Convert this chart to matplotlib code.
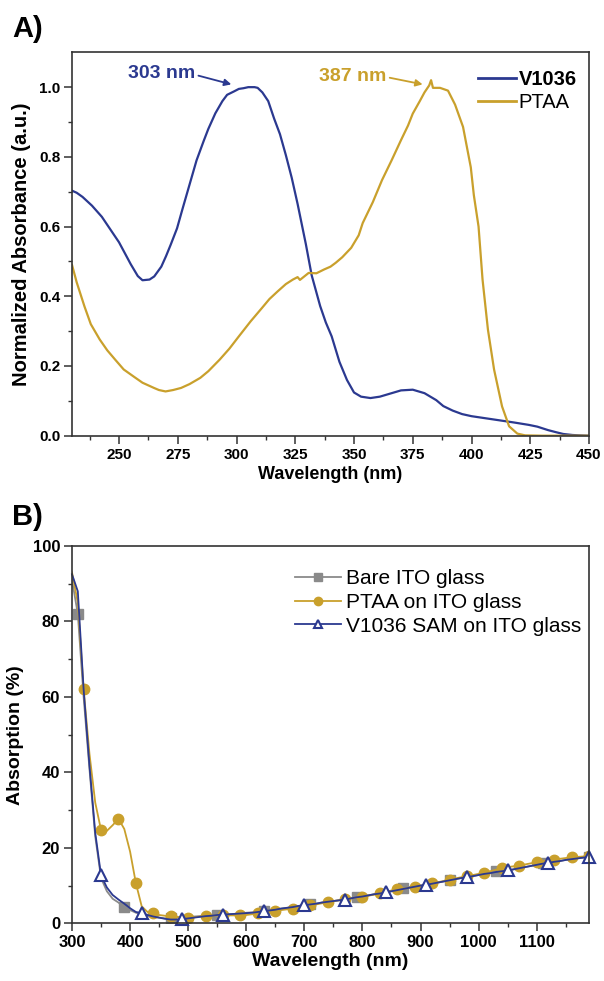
import numpy as np
import matplotlib
matplotlib.use("Agg")
import matplotlib.pyplot as plt
from matplotlib.ticker import MultipleLocator, FormatStrFormatter

plt.rcParams['font.family'] = ['Liberation Sans', 'DejaVu Sans']

# ---------------- Panel A data ----------------
wl_v1036 = [230, 232, 234.5, 238.5, 242.7, 247, 250, 255, 258, 260, 263, 265, 268, 270,
            272, 274.7, 277, 280, 283, 286, 288, 291, 294, 296, 299, 301, 303, 305, 307.7,
            309, 311, 313.5, 316, 318.5, 321, 323.5, 326, 329.5, 332, 335.6, 338, 340.5,
            343.8, 347, 350, 353, 357, 361, 365, 370, 375, 380, 385, 388, 392, 396, 400,
            405, 410, 413, 418, 424.4, 428, 432.6, 436, 439, 443, 446, 450]
abs_v1036 = [0.703, 0.697, 0.685, 0.66, 0.628, 0.585, 0.555, 0.492, 0.458, 0.446, 0.448,
             0.457, 0.485, 0.515, 0.548, 0.595, 0.65, 0.72, 0.79, 0.845, 0.88, 0.925, 0.96,
             0.978, 0.988, 0.995, 0.997, 1.0, 1.0, 0.998, 0.985, 0.96, 0.91, 0.865, 0.805,
             0.74, 0.665, 0.55, 0.46, 0.372, 0.325, 0.285, 0.212, 0.16, 0.124, 0.112, 0.108,
             0.112, 0.12, 0.13, 0.132, 0.122, 0.102, 0.085, 0.072, 0.062, 0.056, 0.051,
             0.046, 0.043, 0.038, 0.031, 0.026, 0.016, 0.01, 0.005, 0.002, 0.001, 0.0]

wl_ptaa = [230, 232, 235.3, 238, 241.8, 245, 248.4, 252, 256.6, 260, 264.9, 267, 269.8, 273,
           276.4, 280, 284.6, 288, 292.8, 297, 301, 306, 310.9, 314, 317.5, 321, 324, 326,
           327, 330.7, 334, 337.3, 340, 342.2, 345, 348.8, 352, 353.7, 358, 361.9, 366, 370,
           373, 375, 378, 380, 382, 382.8, 383.6, 386.6, 390, 393, 396.4, 399.7, 401, 403,
           404.7, 407, 409.6, 413, 416, 419.5, 422.8, 430, 440, 450]
abs_ptaa = [0.49, 0.44, 0.371, 0.32, 0.276, 0.245, 0.218, 0.19, 0.168, 0.152, 0.137, 0.131,
            0.127, 0.131, 0.137, 0.148, 0.166, 0.185, 0.218, 0.25, 0.285, 0.328, 0.367, 0.392,
            0.414, 0.435, 0.448, 0.455, 0.447, 0.467, 0.466, 0.477, 0.485, 0.496, 0.512,
            0.539, 0.575, 0.61, 0.67, 0.733, 0.79, 0.848, 0.89, 0.924, 0.96, 0.985, 1.005,
            1.02, 0.998, 0.998, 0.99, 0.95, 0.886, 0.77, 0.69, 0.6, 0.448, 0.304, 0.19,
            0.084, 0.027, 0.006, 0.001, 0.0, 0.0, 0.0]

# ---------------- Panel B data ----------------
wl_b = list(range(300, 1200, 10))
bare_ito = [91.0, 82.0, 60.0, 41.0, 23.0, 12.0, 8.5, 6.5, 5.5, 4.2, 3.5, 2.8, 2.4, 2.0, 1.7,
            1.5, 1.3, 1.4, 1.5, 1.6, 1.7, 1.8, 1.9, 2.0, 2.1, 2.2, 2.3, 2.4, 2.5, 2.6, 2.8,
            2.9, 3.0, 3.2, 3.4, 3.6, 3.9, 4.1, 4.3, 4.6, 4.8, 5.0, 5.2, 5.5, 5.7, 5.9, 6.1,
            6.3, 6.6, 7.0, 7.2, 7.4, 7.7, 7.9, 8.2, 8.5, 8.8, 9.3, 9.6, 9.8, 10.0, 10.2, 10.5,
            10.8, 11.1, 11.5, 11.7, 12.0, 12.2, 12.5, 12.8, 13.1, 13.4, 13.8, 13.9, 14.0,
            14.3, 14.6, 14.9, 15.2, 15.5, 15.9, 16.0, 16.3, 16.5, 16.8, 17.0, 17.2, 17.4, 17.7]
ptaa_ito = [93.0, 85.0, 62.0, 45.0, 32.0, 24.7, 24.5, 26.0, 27.7, 25.0, 19.0, 10.6, 4.5, 3.0,
            2.6, 2.2, 2.0, 1.9, 1.7, 1.6, 1.5, 1.6, 1.8, 1.9, 2.0, 2.1, 2.1, 2.1, 2.1, 2.1, 2.2,
            2.4, 2.6, 2.8, 3.0, 3.3, 3.5, 3.7, 3.9, 4.2, 4.5, 4.8, 5.0, 5.3, 5.6, 5.9, 6.1,
            6.4, 6.6, 6.8, 7.0, 7.3, 7.6, 7.9, 8.3, 8.7, 9.0, 9.2, 9.4, 9.6, 9.9, 10.2, 10.6,
            10.9, 11.2, 11.5, 11.9, 12.2, 12.5, 12.8, 13.1, 13.3, 13.8, 14.2, 14.7, 14.9,
            15.1, 15.3, 15.6, 15.9, 16.2, 16.4, 16.7, 16.9, 17.1, 17.3, 17.5, 17.6, 17.7, 17.8]
v1036_ito = [92.5, 88.0, 62.0, 42.0, 24.0, 12.7, 9.5, 7.5, 6.3, 5.2, 4.0, 3.0, 2.7, 2.2, 1.8,
             1.5, 1.2, 1.0, 1.0, 1.1, 1.3, 1.5, 1.7, 1.9, 2.0, 2.2, 2.3, 2.4, 2.5, 2.6, 2.7,
             2.8, 3.0, 3.2, 3.4, 3.6, 3.9, 4.1, 4.3, 4.6, 4.8, 5.0, 5.2, 5.5, 5.7, 5.9, 6.1,
             6.3, 6.6, 6.9, 7.1, 7.4, 7.7, 7.9, 8.2, 8.5, 8.8, 9.1, 9.4, 9.7, 10.0, 10.2, 10.5,
             10.8, 11.1, 11.4, 11.7, 12.0, 12.2, 12.5, 12.8, 13.1, 13.3, 13.6, 13.8, 14.0,
             14.3, 14.6, 14.9, 15.2, 15.5, 15.8, 16.0, 16.3, 16.5, 16.8, 17.0, 17.2, 17.4, 17.6]

labels_b = ["Bare ITO glass", "PTAA on ITO glass", "V1036 SAM on ITO glass"]

NAVY = "#2b3990"
GOLD = "#c9a02c"
GRAY = "#8a8a8a"

W, H = 604, 981
fig = plt.figure(figsize=(W / 100, H / 100), dpi=100)


def axrect(l, r, t, b):
    return [l / W, 1 - b / H, (r - l) / W, (b - t) / H]


def style(ax, fs):
    for s in ax.spines.values():
        s.set_linewidth(1.2)
        s.set_color("#333333")
    ax.tick_params(which="major", direction="out", length=5.5, width=1.1,
                   labelsize=fs, top=False, right=False, color="#333333", pad=3)
    ax.tick_params(which="minor", direction="out", length=3.2, width=1.0,
                   top=False, right=False, color="#333333")
    for lab in ax.get_xticklabels() + ax.get_yticklabels():
        lab.set_fontweight("bold")


# ---------------- Panel A ----------------
axA = fig.add_axes(axrect(72, 589, 52.3, 435.7))
axA.plot(wl_v1036, abs_v1036, color=NAVY, lw=1.6, label="V1036")
axA.plot(wl_ptaa, abs_ptaa, color=GOLD, lw=1.6, label="PTAA")
axA.set_xlim(230, 450)
axA.set_ylim(0, 1.1)
axA.set_xticks([250, 275, 300, 325, 350, 375, 400, 425, 450])
axA.xaxis.set_minor_locator(MultipleLocator(12.5))
axA.set_yticks([0.0, 0.2, 0.4, 0.6, 0.8, 1.0])
axA.set_yticks([0.1, 0.3, 0.5, 0.7, 0.9], minor=True)
axA.yaxis.set_major_formatter(FormatStrFormatter("%.1f"))
style(axA, 11)
axA.set_xlabel("Wavelength (nm)", fontsize=13, fontweight="bold", labelpad=3)
axA.set_ylabel("Normalized Absorbance (a.u.)", fontsize=14.5, fontweight="bold", labelpad=6)

axA.text(268, 1.04, "303 nm", color=NAVY, fontsize=14, fontweight="bold",
         ha="center", va="center")
axA.annotate("", xy=(297.8, 1.008), xytext=(283.8, 1.033),
             arrowprops=dict(arrowstyle="-|>", color=NAVY, lw=1.3, mutation_scale=10,
                             shrinkA=0, shrinkB=0))
axA.text(349.6, 1.032, "387 nm", color=GOLD, fontsize=14, fontweight="bold",
         ha="center", va="center")
axA.annotate("", xy=(379.2, 1.008), xytext=(365.2, 1.027),
             arrowprops=dict(arrowstyle="-|>", color=GOLD, lw=1.3, mutation_scale=10,
                             shrinkA=0, shrinkB=0))

legA = axA.legend(loc="upper right", frameon=False, fontsize=14.5, handlelength=1.9,
                  handletextpad=0.15, borderaxespad=0.2, labelspacing=0.2,
                  bbox_to_anchor=(1.0, 0.985))
legA.get_texts()[0].set_fontweight("bold")
for lh in legA.get_lines():
    lh.set_linewidth(2.0)

fig.text(12 / W, 1 - 37 / H, "A)", fontsize=21, fontweight="bold", ha="left", va="baseline")

# ---------------- Panel B ----------------
axB = fig.add_axes(axrect(72, 589, 546, 923.3))
axB.plot(wl_b, bare_ito, color=GRAY, lw=1.3, marker="s", ms=6.5, mfc=GRAY, mec=GRAY,
         markevery=slice(1, None, 8), label=labels_b[0])
axB.plot(wl_b, ptaa_ito, color=GOLD, lw=1.3, marker="o", ms=7.5, mfc=GOLD, mec=GOLD,
         markevery=slice(2, None, 3), label=labels_b[1])
axB.plot(wl_b, v1036_ito, color=NAVY, lw=1.3, marker="^", ms=8, mfc="white", mec=NAVY,
         mew=1.5, markevery=slice(5, None, 7), label=labels_b[2], clip_on=False)
axB.set_xlim(300, 1190)
axB.set_ylim(0, 100)
axB.xaxis.set_major_locator(MultipleLocator(100))
axB.xaxis.set_minor_locator(MultipleLocator(50))
axB.yaxis.set_major_locator(MultipleLocator(20))
axB.yaxis.set_minor_locator(MultipleLocator(10))
style(axB, 12)
axB.set_xlabel("Wavelength (nm)", fontsize=14, fontweight="bold", labelpad=2)
axB.set_ylabel("Absorption (%)", fontsize=14, fontweight="bold", labelpad=6)

legB = axB.legend(loc="upper left", frameon=False, fontsize=15, handlelength=2.2,
                  handletextpad=0.25, borderaxespad=0.0, labelspacing=0.22,
                  bbox_to_anchor=((293 - 72) / 517 - 0.012, 0.96), markerscale=0.8)

fig.text(12 / W, 1 - 525 / H, "B)", fontsize=21, fontweight="bold", ha="left", va="baseline")

fig.savefig("out.png", dpi=100)
